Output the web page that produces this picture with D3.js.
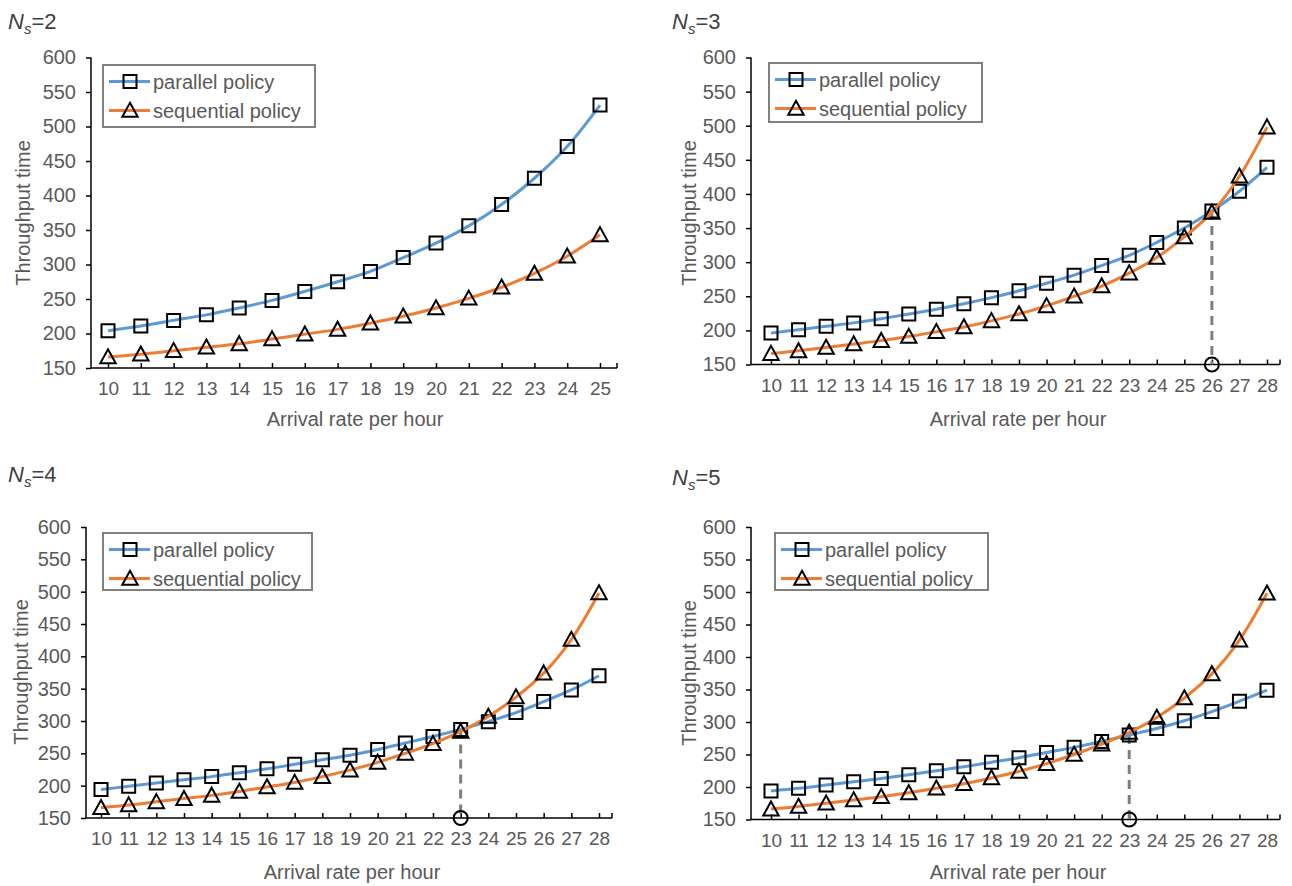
<!DOCTYPE html>
<html><head><meta charset="utf-8">
<script src="https://cdn.jsdelivr.net/npm/d3@7"></script>
<style>
body{margin:0;background:#fff}
text{font-family:"Liberation Sans",Arial,sans-serif;fill:#595959}
</style>
</head><body>
<svg id="c" width="1292" height="886"></svg>
<script>
// ---------- data ----------
const rates2 = [10,11,12,13,14,15,16,17,18,19,20,21,22,23,24,25];
const rates = [10,11,12,13,14,15,16,17,18,19,20,21,22,23,24,25,26,27,28];
const yTicks = [150,200,250,300,350,400,450,500,550,600];

const parallel2   = [204,211,219,227,237,248,261,275,290,310,331,356,387,425,471,531];
const sequential2 = [166,170,175,180,185,192,199,206,215,225,237,251,267,287,312,343];

const parallel3   = [196,201,206,211,217,224,231,239,248,258,269,281,295,310,329,350,375,404,439];
const sequential3 = [166,170,175,180,185,191,198,205,214,224,236,250,265,284,307,337,373,426,498];

const parallel4   = [194,199,204,209,214,220,226,233,240,247,256,266,276,287,299,313,330,348,370];
const sequential4 = [166,170,175,180,185,191,198,205,214,224,236,250,265,284,307,337,374,426,498];

const parallel5   = [194,198,203,208,213,219,225,231,238,245,253,261,270,280,290,302,316,332,349];
const sequential5 = [166,170,175,180,185,191,198,205,214,224,236,250,266,284,307,337,374,426,498];

const nsValues = ["2","3","4","5"];
const crossRate = [null, 26, 23, 23];
const seriesNames = ["parallel policy","sequential policy"];
const xTitle = "Arrival rate per hour";
const yTitle = "Throughput time";

// ---------- layout ----------
const panels = [
  {ns:nsValues[0], cats:rates2, par:parallel2, seq:sequential2, cross:crossRate[0],
   ax:91, c0:108, c1:600, right:617, top:57.5, bottom:368, xfs:19,
   leg:{x:103,y:65,w:212,h:62}, title:{x:8,y:29}, xt:{x:355,y:426}, yt:{x:23,y:213}},
  {ns:nsValues[1], cats:rates, par:parallel3, seq:sequential3, cross:crossRate[1],
   ax:751, c0:771, c1:1267, right:1280, top:57.5, bottom:364.5, xfs:19,
   leg:{x:769,y:63,w:213,h:59}, title:{x:672,y:29}, xt:{x:1018,y:426}, yt:{x:689,y:213}},
  {ns:nsValues[2], cats:rates, par:parallel4, seq:sequential4, cross:crossRate[2],
   ax:86, c0:101, c1:599, right:612, top:527, bottom:818, xfs:19,
   leg:{x:103,y:533,w:209,h:57}, title:{x:8,y:482}, xt:{x:352,y:879}, yt:{x:21,y:672}},
  {ns:nsValues[3], cats:rates, par:parallel5, seq:sequential5, cross:crossRate[3],
   ax:751, c0:771, c1:1267, right:1280, top:527, bottom:819.5, xfs:19,
   leg:{x:775,y:533,w:213,h:57}, title:{x:672,y:485}, xt:{x:1018,y:879}, yt:{x:689,y:673}}
];

const BLUE = "#5B9BD5", ORANGE = "#ED7D31";
const svg = d3.select("#c");

const sqPath = s => `M${-s/2},${-s/2}h${s}v${s}h${-s}Z`;
const triPath = s => `M0,${-s*0.55}L${s*0.55},${s*0.45}L${-s*0.55},${s*0.45}Z`;

function marker(g, type, x, y){
  g.append("path").attr("d", type === "sq" ? sqPath(13) : triPath(14))
    .attr("transform", `translate(${x},${y})`)
    .attr("fill","none").attr("stroke","#000").attr("stroke-width",2);
}

panels.forEach(p => {
  const g = svg.append("g");
  const x = d3.scalePoint().domain(p.cats).range([p.c0, p.c1]);
  const y = d3.scaleLinear().domain([150,600]).range([p.bottom, p.top]);

  // y axis
  const yAxis = d3.axisLeft(y).tickValues(yTicks).tickSize(5).tickPadding(10);
  const ya = g.append("g").attr("transform",`translate(${p.ax},0)`).call(yAxis);
  ya.select(".domain").attr("stroke","#000").attr("stroke-width",1.5).attr("d",`M0,${p.top}V${p.bottom}`);
  ya.selectAll(".tick line").attr("stroke","#000").attr("stroke-width",1.5);
  ya.selectAll(".tick text").attr("fill","#595959").style("font-size","20px").style("font-family","'Liberation Sans',Arial,sans-serif");

  // x axis
  const xAxis = d3.axisBottom(x).tickSize(-5).tickPadding(14);
  const xa = g.append("g").attr("transform",`translate(0,${p.bottom})`).call(xAxis);
  xa.select(".domain").attr("stroke","#000").attr("stroke-width",1.5).attr("d",`M${p.ax},0H${p.right}`);
  xa.selectAll(".tick line").attr("stroke","#000").attr("stroke-width",1.5);
  xa.selectAll(".tick text").attr("fill","#595959").attr("dy","0.71em").style("font-size",p.xfs+"px").style("font-family","'Liberation Sans',Arial,sans-serif");
  xa.append("line").attr("x1",p.right).attr("x2",p.right).attr("y1",0).attr("y2",-5).attr("stroke","#000").attr("stroke-width",1.5);

  // titles
  g.append("text").attr("x",p.xt.x).attr("y",p.xt.y).attr("text-anchor","middle").style("font-size","20px").text(xTitle);
  g.append("text").attr("transform",`translate(${p.yt.x},${p.yt.y}) rotate(-90)`).attr("text-anchor","middle")
    .attr("dy","0.35em").style("font-size","20px").text(yTitle);
  const t = g.append("text").attr("x",p.title.x).attr("y",p.title.y).style("font-size","22px").style("fill","#404040");
  t.append("tspan").style("font-style","italic").text("N");
  t.append("tspan").style("font-style","italic").style("font-size","15px").attr("dy",5).text("s");
  t.append("tspan").attr("dy",-5).text("=" + p.ns);

  // crossover dashed line
  if (p.cross !== null) {
    const i = p.cats.indexOf(p.cross);
    const cx = x(p.cross);
    g.append("line").attr("x1",cx).attr("x2",cx).attr("y1",y(p.par[i])).attr("y2",y(150))
      .attr("stroke","#7F7F7F").attr("stroke-width",3).attr("stroke-dasharray","9,6");
  }

  const line = d3.line().x((d,i)=>x(p.cats[i])).y(d=>y(d)).curve(d3.curveCatmullRom.alpha(0.5));
  // parallel
  g.append("path").attr("d",line(p.par)).attr("fill","none").attr("stroke",BLUE).attr("stroke-width",3);
  p.par.forEach((v,i)=>marker(g,"sq",x(p.cats[i]),y(v)));
  // sequential
  g.append("path").attr("d",line(p.seq)).attr("fill","none").attr("stroke",ORANGE).attr("stroke-width",3);
  p.seq.forEach((v,i)=>marker(g,"tri",x(p.cats[i]),y(v)));

  if (p.cross !== null) {
    g.append("circle").attr("cx",x(p.cross)).attr("cy",y(150)).attr("r",7)
      .attr("fill","none").attr("stroke","#000").attr("stroke-width",2);
  }

  // legend
  const L = p.leg;
  g.append("rect").attr("x",L.x).attr("y",L.y).attr("width",L.w).attr("height",L.h)
    .attr("fill","#fff").attr("stroke","#808080").attr("stroke-width",2);
  const rows = [{c:BLUE,m:"sq",n:seriesNames[0],dy:16.5},{c:ORANGE,m:"tri",n:seriesNames[1],dy:45.5}];
  rows.forEach(r=>{
    const ry = L.y + r.dy;
    g.append("line").attr("x1",L.x+6).attr("x2",L.x+47).attr("y1",ry).attr("y2",ry).attr("stroke",r.c).attr("stroke-width",3);
    marker(g, r.m, L.x+27, ry);
    g.append("text").attr("x",L.x+50).attr("y",ry).attr("dy","0.35em").style("font-size","20px").text(r.n);
  });
});
</script>
</body></html>
